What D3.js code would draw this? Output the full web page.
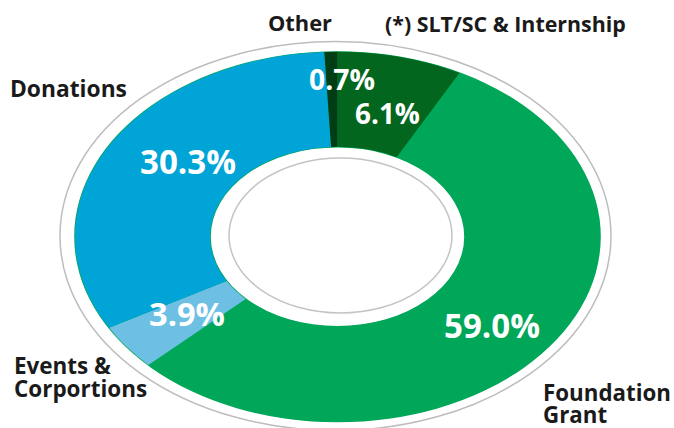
<!DOCTYPE html>
<html><head><meta charset="utf-8">
<script src="https://cdn.jsdelivr.net/npm/d3@7"></script>
<style>html,body{margin:0;padding:0;background:#fff;}svg{display:block;}</style>
</head><body>
<div id="chart"></div>
<script>
// ---- data ----
const categories = ["(*) SLT/SC & Internship", "Foundation Grant", "Events & Corportions", "Donations", "Other"];
// values printed on the chart (%)
const values = [6.1, 59.0, 3.9, 30.3, 0.7];
const drawnShares = [7.7, 55.1, 4.0, 32.4, 0.8];
const colors = ["#02661f", "#00a759", "#6dc0e4", "#00a4d6", "#003d15"];

const W = 674, H = 428;
const svg = d3.select("#chart").append("svg").attr("width", W).attr("height", H);

const cx = 337.5, cy = 236.7, R = 262.5, r = 127.5, sy = 185 / 262.5;
const font = "'Open Sans', 'Noto Sans', sans-serif";

// outer decorative ring
svg.append("ellipse").attr("cx", 335.5).attr("cy", 236).attr("rx", 275.5).attr("ry", 194.5)
  .attr("fill", "none").attr("stroke", "#bdbdbd").attr("stroke-width", 1.5);

const g = svg.append("g").attr("transform", `translate(${cx},${cy}) scale(1,${sy})`);
const pie = d3.pie().sort(null).value(d => d)
  .startAngle(0).endAngle(2 * Math.PI);
const arcs = pie(drawnShares);
const arc = d3.arc().innerRadius(r).outerRadius(R);

// faint green rim
g.append("path").attr("d", d3.arc().innerRadius(r - 0.8).outerRadius(R + 0.8)({startAngle: 0, endAngle: 2 * Math.PI}))
  .attr("fill", "#00a759");
g.selectAll("path.slice").data(arcs).join("path").attr("class", "slice")
  .attr("d", arc).attr("fill", (d, i) => colors[i]);

// inner decorative ring
svg.append("ellipse").attr("cx", 340.5).attr("cy", 235.5).attr("rx", 111.5).attr("ry", 77.5)
  .attr("fill", "none").attr("stroke", "#c4c4c4").attr("stroke-width", 1.5);

function fitWidth(node, width, fs) {
  const w = node.getComputedTextLength();
  return fs * width / w;
}

const fmt = d3.format(".1f");
// value labels: [x-left, baseline, width]
const valuePos = [[355, 124, 65], [444, 338, 96], [149, 326, 76], [140, 174, 96], [309, 90, 66]];
values.forEach((v, i) => {
  const s = svg.append("text").attr("x", valuePos[i][0]).attr("y", valuePos[i][1])
    .attr("font-family", font).attr("font-weight", 700).attr("font-size", 30)
    .attr("fill", "#fff").text(fmt(v) + "%");
  s.attr("font-size", fitWidth(s.node(), valuePos[i][2], 30).toFixed(2));
});

// category labels (one text per category, lines as tspans)
const catLines = [["(*) SLT/SC & Internship"], ["Foundation", "Grant"], ["Events &", "Corportions"], ["Donations"], ["Other"]];
const catPos = [[385, 32, 241, 0], [543, 400.5, 128, 22], [14, 374, 97, 22.5], [10, 96.5, 117, 0], [268, 31, 64, 0]];
catLines.forEach((lines, i) => {
  const [x, y, w, lh] = catPos[i];
  const t = svg.append("text").attr("x", x).attr("y", y)
    .attr("font-family", font).attr("font-weight", 700).attr("font-size", 20)
    .attr("fill", "#1a1a1a");
  const first = t.append("tspan").attr("x", x).attr("y", y).text(lines[0]);
  const fs = fitWidth(first.node(), w, 20);
  t.attr("font-size", fs.toFixed(2));
  lines.slice(1).forEach((ln, j) => {
    t.append("tspan").attr("x", x).attr("y", y + (j + 1) * lh).text(ln);
  });
});
</script>
</body></html>
